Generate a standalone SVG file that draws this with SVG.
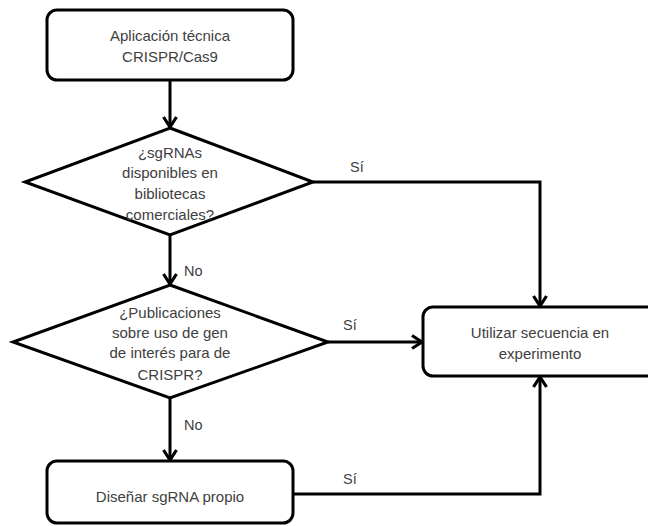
<svg xmlns="http://www.w3.org/2000/svg" width="648" height="526" viewBox="0 0 648 526">
<defs>
<style>
.node{fill:#fff;stroke:#000;stroke-width:3;}
.t{font-family:"Liberation Sans",Arial,sans-serif;font-size:15px;fill:#404040;text-anchor:middle;}
.l{font-family:"Liberation Sans",Arial,sans-serif;font-size:14.5px;fill:#404040;}
.c{fill:none;stroke:#000;stroke-width:3;}
</style>
<marker id="ah" markerUnits="userSpaceOnUse" viewBox="0 0 14 16" refX="12" refY="8" markerWidth="14" markerHeight="16" orient="auto">
<path d="M2,1.5 L12,8 L2,14.5" fill="none" stroke="#000" stroke-width="3.2"/>
</marker>
</defs>
<rect width="648" height="526" fill="#fff"/>
<g id="connectors">
<path class="c" d="M170,80 V127" marker-end="url(#ah)"/>
<path class="c" d="M170,235 V284" marker-end="url(#ah)"/>
<path class="c" d="M170,398 V460" marker-end="url(#ah)"/>
<path class="c" d="M313,182 H540 V306" marker-end="url(#ah)"/>
<path class="c" d="M328,342 H422" marker-end="url(#ah)"/>
<path class="c" d="M292,494 H540 V377" marker-end="url(#ah)"/>
<text class="l" x="184" y="276">No</text>
<text class="l" x="184" y="430">No</text>
<text class="l" x="350" y="172">Sí</text>
<text class="l" x="343" y="330">Sí</text>
<text class="l" x="343" y="484">Sí</text>
</g>
<g id="n1">
<rect class="node" x="47" y="10" width="246" height="70" rx="10"/>
<text class="t" x="170" y="41">Aplicación técnica</text>
<text class="t" x="170" y="62">CRISPR/Cas9</text>
</g>
<g id="n2">
<polygon class="node" points="170,128 313,182 170,235 25,182"/>
<text class="t" x="170" y="158">¿sgRNAs</text>
<text class="t" x="170" y="178">disponibles en</text>
<text class="t" x="170" y="199">bibliotecas</text>
<text class="t" x="170" y="220">comerciales?</text>
</g>
<g id="n3">
<polygon class="node" points="170,285 328,342 170,398 13,342"/>
<text class="t" x="170" y="318">¿Publicaciones</text>
<text class="t" x="170" y="338">sobre uso de gen</text>
<text class="t" x="170" y="358">de interés para de</text>
<text class="t" x="170" y="380">CRISPR?</text>
</g>
<g id="n4">
<rect class="node" x="47" y="461" width="246" height="62" rx="10"/>
<text class="t" x="170" y="502">Diseñar sgRNA propio</text>
</g>
<g id="n5">
<rect class="node" x="423" y="307" width="235" height="69" rx="10"/>
<text class="t" x="540" y="338">Utilizar secuencia en</text>
<text class="t" x="540" y="359">experimento</text>
</g>
</svg>
